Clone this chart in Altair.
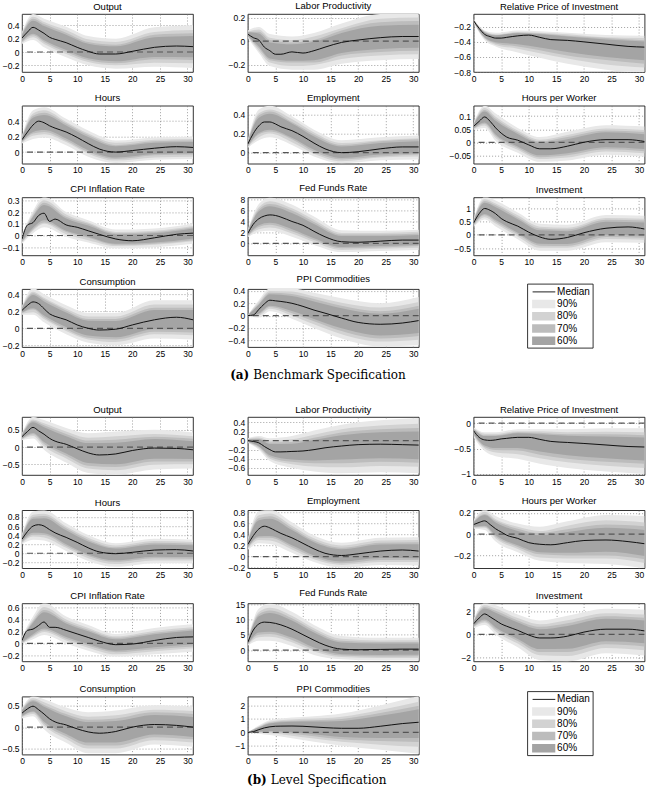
import altair as alt
import pandas as pd

# ---------------- shared grids ----------------
X_MED = [0, 1, 2, 3, 4, 5, 6, 8, 10, 12, 14, 17, 20, 24, 28, 31]
X_BAND = [0, 2, 4, 8, 12, 17, 24, 31]
X_TICKS = [0, 5, 10, 15, 20, 25, 30]
LEVELS = ["90%", "80%", "70%", "60%"]
BAND_COLORS = ["#e8e8e8", "#d2d2d2", "#bcbcbc", "#a4a4a4"]
LEGEND_LABELS = ["Median", "90%", "80%", "70%", "60%"]

# ---------------- (a) Benchmark specification ----------------
A_OUTPUT_MED = [0.21, 0.30, 0.37, 0.33, 0.28, 0.22, 0.19, 0.14, 0.07, 0.01, -0.03, -0.03, 0.01, 0.07, 0.09, 0.08]
A_OUTPUT_LO = [[0.12, 0.18, 0.07, -0.08, -0.20, -0.25, -0.22, -0.24],
               [0.14, 0.22, 0.12, -0.03, -0.15, -0.20, -0.16, -0.17],
               [0.15, 0.25, 0.15, 0.00, -0.12, -0.17, -0.11, -0.12],
               [0.165, 0.275, 0.175, 0.03, -0.095, -0.14, -0.075, -0.08]]
A_OUTPUT_HI = [[0.30, 0.57, 0.50, 0.38, 0.24, 0.20, 0.37, 0.40],
               [0.28, 0.53, 0.45, 0.33, 0.19, 0.15, 0.30, 0.33],
               [0.27, 0.50, 0.42, 0.29, 0.15, 0.11, 0.26, 0.28],
               [0.255, 0.47, 0.39, 0.26, 0.125, 0.085, 0.22, 0.24]]

A_LABPROD_MED = [0.06, 0.03, 0.01, -0.05, -0.08, -0.11, -0.11, -0.09, -0.10, -0.08, -0.05, -0.01, 0.01, 0.03, 0.04, 0.04]
A_LABPROD_LO = [[0.03, -0.10, -0.21, -0.24, -0.24, -0.19, -0.16, -0.15],
                [0.04, -0.08, -0.18, -0.21, -0.20, -0.15, -0.12, -0.11],
                [0.04, -0.06, -0.16, -0.18, -0.18, -0.12, -0.09, -0.08],
                [0.045, -0.045, -0.145, -0.165, -0.16, -0.10, -0.065, -0.055]]
A_LABPROD_HI = [[0.09, 0.12, 0.06, 0.04, 0.07, 0.15, 0.23, 0.24],
                [0.08, 0.10, 0.03, 0.01, 0.04, 0.11, 0.19, 0.20],
                [0.08, 0.08, 0.01, -0.01, 0.01, 0.09, 0.16, 0.17],
                [0.075, 0.065, -0.01, -0.025, -0.005, 0.07, 0.13, 0.14]]

A_RELPRICE_MED = [-0.12, -0.22, -0.30, -0.33, -0.35, -0.35, -0.34, -0.32, -0.31, -0.34, -0.37, -0.38, -0.40, -0.43, -0.46, -0.47]
A_RELPRICE_LO = [[-0.14, -0.38, -0.46, -0.54, -0.61, -0.69, -0.77, -0.82],
                 [-0.14, -0.36, -0.44, -0.49, -0.55, -0.62, -0.70, -0.74],
                 [-0.13, -0.35, -0.42, -0.46, -0.51, -0.58, -0.64, -0.69],
                 [-0.13, -0.34, -0.405, -0.43, -0.475, -0.535, -0.60, -0.645]]
A_RELPRICE_HI = [[-0.10, -0.25, -0.28, -0.25, -0.26, -0.28, -0.31, -0.32],
                 [-0.10, -0.26, -0.30, -0.27, -0.28, -0.30, -0.34, -0.35],
                 [-0.11, -0.27, -0.31, -0.28, -0.29, -0.32, -0.35, -0.38],
                 [-0.11, -0.275, -0.315, -0.285, -0.30, -0.33, -0.37, -0.395]]

A_HOURS_MED = [0.16, 0.26, 0.35, 0.40, 0.38, 0.34, 0.31, 0.26, 0.19, 0.11, 0.04, 0.00, 0.02, 0.05, 0.07, 0.06]
A_HOURS_LO = [[0.11, 0.17, 0.19, 0.09, -0.06, -0.14, -0.10, -0.09],
              [0.12, 0.21, 0.23, 0.13, -0.02, -0.11, -0.07, -0.06],
              [0.13, 0.24, 0.26, 0.15, 0.00, -0.09, -0.04, -0.03],
              [0.135, 0.26, 0.285, 0.175, 0.025, -0.07, -0.025, -0.015]]
A_HOURS_HI = [[0.21, 0.54, 0.58, 0.43, 0.28, 0.15, 0.19, 0.20],
              [0.20, 0.50, 0.54, 0.39, 0.24, 0.12, 0.16, 0.17],
              [0.19, 0.47, 0.51, 0.37, 0.22, 0.09, 0.14, 0.15],
              [0.185, 0.445, 0.48, 0.345, 0.195, 0.075, 0.12, 0.13]]

A_EMPL_MED = [0.09, 0.20, 0.28, 0.32, 0.32, 0.30, 0.27, 0.23, 0.17, 0.10, 0.04, 0.00, 0.01, 0.04, 0.06, 0.06]
A_EMPL_LO = [[0.05, 0.13, 0.16, 0.08, -0.04, -0.11, -0.08, -0.07],
             [0.06, 0.16, 0.20, 0.11, -0.01, -0.09, -0.05, -0.04],
             [0.06, 0.19, 0.22, 0.14, 0.01, -0.07, -0.04, -0.02],
             [0.07, 0.205, 0.24, 0.155, 0.03, -0.055, -0.02, -0.005]]
A_EMPL_HI = [[0.13, 0.45, 0.49, 0.38, 0.24, 0.13, 0.16, 0.18],
             [0.12, 0.41, 0.45, 0.35, 0.21, 0.10, 0.13, 0.15],
             [0.12, 0.39, 0.43, 0.32, 0.19, 0.08, 0.12, 0.14],
             [0.11, 0.365, 0.405, 0.305, 0.17, 0.065, 0.10, 0.12]]

A_HPW_MED = [0.061, 0.08, 0.097, 0.08, 0.055, 0.035, 0.02, 0.008, -0.01, -0.025, -0.025, -0.015, 0.0, 0.01, 0.01, 0.003]
A_HPW_LO = [[0.047, 0.055, 0.005, -0.04, -0.075, -0.07, -0.048, -0.055],
            [0.050, 0.064, 0.016, -0.029, -0.064, -0.058, -0.035, -0.042],
            [0.052, 0.071, 0.024, -0.022, -0.057, -0.050, -0.027, -0.034],
            [0.054, 0.076, 0.030, -0.016, -0.050, -0.042, -0.019, -0.026]]
A_HPW_HI = [[0.075, 0.14, 0.11, 0.055, 0.02, 0.04, 0.065, 0.06],
            [0.072, 0.131, 0.098, 0.045, 0.010, 0.028, 0.053, 0.047],
            [0.070, 0.124, 0.090, 0.038, 0.003, 0.020, 0.045, 0.039],
            [0.068, 0.118, 0.082, 0.032, -0.002, 0.012, 0.038, 0.031]]

A_CPI_MED = [-0.03, 0.09, 0.11, 0.17, 0.19, 0.12, 0.14, 0.09, 0.07, 0.04, 0.01, -0.03, -0.045, -0.02, 0.01, 0.02]
A_CPI_LO = [[-0.07, 0.02, 0.07, -0.01, -0.06, -0.11, -0.10, -0.07],
            [-0.06, 0.04, 0.10, 0.01, -0.04, -0.09, -0.08, -0.05],
            [-0.055, 0.05, 0.11, 0.03, -0.02, -0.08, -0.07, -0.04],
            [-0.05, 0.065, 0.13, 0.04, -0.01, -0.07, -0.06, -0.025]]
A_CPI_HI = [[0.01, 0.21, 0.33, 0.20, 0.13, 0.05, 0.06, 0.10],
            [0.00, 0.19, 0.30, 0.18, 0.11, 0.03, 0.04, 0.08],
            [-0.005, 0.17, 0.28, 0.16, 0.10, 0.02, 0.03, 0.07],
            [-0.01, 0.16, 0.26, 0.145, 0.085, 0.01, 0.02, 0.06]]

A_FFR_MED = [1.8, 3.5, 4.5, 5.0, 5.2, 5.1, 4.8, 4.0, 3.3, 2.2, 1.2, 0.3, 0.2, 0.4, 0.6, 0.6]
A_FFR_LO = [[1.1, 2.1, 2.3, 1.2, -0.3, -1.6, -1.4, -1.2],
            [1.25, 2.6, 2.9, 1.8, 0.25, -1.2, -1.0, -0.8],
            [1.35, 3.0, 3.4, 2.2, 0.6, -0.9, -0.75, -0.5],
            [1.45, 3.3, 3.75, 2.6, 0.95, -0.65, -0.5, -0.3]]
A_FFR_HI = [[2.5, 7.2, 8.4, 7.1, 4.9, 2.4, 2.3, 2.5],
            [2.35, 6.6, 7.7, 6.4, 4.3, 1.9, 1.9, 2.1],
            [2.25, 6.2, 7.2, 6.0, 3.9, 1.6, 1.6, 1.8],
            [2.15, 5.85, 6.8, 5.55, 3.55, 1.35, 1.35, 1.55]]

A_INV_MED = [0.45, 0.80, 1.00, 0.93, 0.80, 0.62, 0.50, 0.33, 0.10, -0.08, -0.17, -0.10, 0.08, 0.25, 0.30, 0.22]
A_INV_LO = [[0.30, 0.58, 0.32, -0.17, -0.60, -0.60, -0.28, -0.30],
            [0.33, 0.67, 0.43, -0.06, -0.49, -0.49, -0.16, -0.19],
            [0.36, 0.74, 0.50, 0.02, -0.41, -0.42, -0.08, -0.11],
            [0.38, 0.79, 0.56, 0.08, -0.34, -0.35, 0.00, -0.04]]
A_INV_HI = [[0.60, 1.45, 1.30, 0.85, 0.42, 0.38, 0.75, 0.72],
            [0.57, 1.35, 1.19, 0.74, 0.31, 0.27, 0.64, 0.61],
            [0.54, 1.28, 1.12, 0.66, 0.24, 0.20, 0.57, 0.54],
            [0.52, 1.22, 1.05, 0.59, 0.17, 0.14, 0.50, 0.47]]

A_CONS_MED = [0.21, 0.27, 0.31, 0.29, 0.23, 0.17, 0.14, 0.10, 0.04, 0.00, -0.02, -0.01, 0.04, 0.10, 0.13, 0.10]
A_CONS_LO = [[0.16, 0.16, 0.07, -0.07, -0.17, -0.20, -0.12, -0.13],
             [0.17, 0.19, 0.11, -0.03, -0.13, -0.16, -0.07, -0.08],
             [0.18, 0.22, 0.13, -0.01, -0.11, -0.13, -0.04, -0.05],
             [0.185, 0.235, 0.15, 0.015, -0.085, -0.105, -0.01, -0.015]]
A_CONS_HI = [[0.26, 0.47, 0.40, 0.27, 0.18, 0.18, 0.33, 0.33],
             [0.25, 0.43, 0.36, 0.23, 0.14, 0.14, 0.28, 0.28],
             [0.24, 0.41, 0.34, 0.21, 0.11, 0.11, 0.24, 0.24],
             [0.235, 0.39, 0.315, 0.185, 0.09, 0.085, 0.215, 0.215]]

A_PPI_MED = [0.0, 0.01, 0.10, 0.19, 0.25, 0.24, 0.23, 0.20, 0.15, 0.09, 0.04, -0.04, -0.11, -0.14, -0.12, -0.08]
A_PPI_LO = [[-0.01, -0.03, 0.07, -0.05, -0.20, -0.37, -0.50, -0.48],
            [-0.01, 0.00, 0.11, 0.00, -0.14, -0.30, -0.42, -0.39],
            [-0.005, 0.02, 0.14, 0.04, -0.09, -0.25, -0.37, -0.33],
            [-0.005, 0.035, 0.16, 0.075, -0.055, -0.205, -0.32, -0.28]]
A_PPI_HI = [[0.01, 0.25, 0.44, 0.44, 0.37, 0.28, 0.20, 0.30],
            [0.01, 0.22, 0.40, 0.39, 0.31, 0.21, 0.13, 0.22],
            [0.005, 0.19, 0.37, 0.35, 0.27, 0.16, 0.07, 0.16],
            [0.005, 0.175, 0.345, 0.32, 0.23, 0.12, 0.03, 0.11]]

# ---------------- (b) Level specification ----------------
B_OUTPUT_MED = [0.30, 0.45, 0.57, 0.47, 0.37, 0.25, 0.17, 0.08, -0.05, -0.17, -0.23, -0.20, -0.10, -0.03, -0.04, -0.08]
B_OUTPUT_LO = [[0.20, 0.25, -0.08, -0.45, -0.75, -0.80, -0.65, -0.62],
               [0.22, 0.32, 0.02, -0.33, -0.62, -0.67, -0.51, -0.50],
               [0.24, 0.37, 0.09, -0.25, -0.54, -0.58, -0.42, -0.42],
               [0.25, 0.41, 0.145, -0.185, -0.46, -0.50, -0.34, -0.35]]
B_OUTPUT_HI = [[0.40, 0.87, 0.78, 0.55, 0.40, 0.45, 0.50, 0.42],
               [0.38, 0.80, 0.69, 0.45, 0.27, 0.31, 0.38, 0.31],
               [0.36, 0.76, 0.63, 0.38, 0.19, 0.21, 0.30, 0.24],
               [0.35, 0.72, 0.575, 0.315, 0.115, 0.125, 0.235, 0.17]]

B_LABPROD_MED = [0.0, -0.02, -0.05, -0.13, -0.20, -0.25, -0.25, -0.24, -0.23, -0.20, -0.16, -0.12, -0.09, -0.08, -0.09, -0.10]
B_LABPROD_LO = [[-0.05, -0.20, -0.45, -0.60, -0.68, -0.72, -0.70, -0.72],
                [-0.04, -0.17, -0.40, -0.52, -0.57, -0.59, -0.56, -0.58],
                [-0.03, -0.14, -0.36, -0.47, -0.50, -0.50, -0.47, -0.49],
                [-0.025, -0.125, -0.325, -0.42, -0.44, -0.42, -0.39, -0.41]]
B_LABPROD_HI = [[0.05, 0.10, 0.05, 0.10, 0.22, 0.35, 0.45, 0.50],
                [0.04, 0.07, 0.00, 0.03, 0.13, 0.25, 0.33, 0.37],
                [0.03, 0.04, -0.04, -0.03, 0.06, 0.18, 0.25, 0.28],
                [0.025, 0.025, -0.075, -0.07, 0.01, 0.115, 0.185, 0.20]]

B_RELPRICE_MED = [-0.15, -0.28, -0.33, -0.34, -0.33, -0.31, -0.30, -0.28, -0.28, -0.32, -0.36, -0.38, -0.40, -0.43, -0.46, -0.47]
B_RELPRICE_LO = [[-0.28, -0.55, -0.65, -0.70, -0.80, -0.88, -0.95, -1.00],
                 [-0.25, -0.50, -0.58, -0.61, -0.69, -0.77, -0.84, -0.88],
                 [-0.23, -0.47, -0.53, -0.54, -0.62, -0.70, -0.76, -0.80],
                 [-0.215, -0.44, -0.49, -0.49, -0.56, -0.63, -0.69, -0.735]]
B_RELPRICE_HI = [[-0.08, -0.18, -0.18, -0.12, -0.12, -0.12, -0.10, -0.10],
                 [-0.10, -0.21, -0.21, -0.16, -0.16, -0.18, -0.17, -0.18],
                 [-0.11, -0.24, -0.24, -0.18, -0.19, -0.22, -0.22, -0.24],
                 [-0.115, -0.255, -0.255, -0.20, -0.22, -0.25, -0.265, -0.285]]

B_HOURS_MED = [0.31, 0.48, 0.60, 0.63, 0.60, 0.52, 0.45, 0.35, 0.24, 0.12, 0.03, -0.01, 0.02, 0.07, 0.08, 0.05]
B_HOURS_LO = [[0.20, 0.30, 0.28, 0.05, -0.17, -0.30, -0.22, -0.22],
              [0.22, 0.37, 0.35, 0.12, -0.11, -0.24, -0.16, -0.16],
              [0.24, 0.41, 0.40, 0.16, -0.06, -0.19, -0.11, -0.12],
              [0.255, 0.45, 0.44, 0.20, -0.025, -0.155, -0.075, -0.085]]
B_HOURS_HI = [[0.42, 0.92, 0.95, 0.66, 0.40, 0.22, 0.32, 0.30],
              [0.40, 0.85, 0.87, 0.59, 0.34, 0.17, 0.27, 0.25],
              [0.38, 0.80, 0.82, 0.55, 0.30, 0.13, 0.23, 0.21],
              [0.365, 0.76, 0.775, 0.505, 0.26, 0.105, 0.195, 0.175]]

B_EMPL_MED = [0.22, 0.38, 0.50, 0.55, 0.52, 0.47, 0.42, 0.34, 0.24, 0.14, 0.06, 0.02, 0.05, 0.10, 0.12, 0.10]
B_EMPL_LO = [[0.12, 0.24, 0.23, 0.07, -0.10, -0.20, -0.15, -0.16],
             [0.14, 0.30, 0.29, 0.13, -0.05, -0.15, -0.10, -0.10],
             [0.16, 0.34, 0.34, 0.17, -0.01, -0.12, -0.06, -0.06],
             [0.17, 0.37, 0.375, 0.205, 0.02, -0.09, -0.025, -0.03]]
B_EMPL_HI = [[0.32, 0.82, 0.85, 0.62, 0.38, 0.25, 0.34, 0.35],
             [0.30, 0.75, 0.78, 0.56, 0.33, 0.20, 0.29, 0.30],
             [0.28, 0.70, 0.73, 0.52, 0.29, 0.16, 0.25, 0.26],
             [0.27, 0.66, 0.685, 0.48, 0.26, 0.135, 0.22, 0.225]]

B_HPW_MED = [0.09, 0.11, 0.125, 0.09, 0.05, 0.02, -0.01, -0.04, -0.08, -0.095, -0.10, -0.08, -0.06, -0.055, -0.07, -0.09]
B_HPW_LO = [[0.05, 0.04, -0.07, -0.17, -0.25, -0.27, -0.28, -0.32],
            [0.06, 0.06, -0.04, -0.14, -0.22, -0.23, -0.23, -0.27],
            [0.065, 0.07, -0.025, -0.12, -0.19, -0.20, -0.20, -0.235],
            [0.07, 0.08, -0.01, -0.105, -0.17, -0.175, -0.165, -0.205]]
B_HPW_HI = [[0.13, 0.23, 0.17, 0.10, 0.07, 0.12, 0.18, 0.17],
            [0.12, 0.21, 0.14, 0.07, 0.03, 0.08, 0.13, 0.11],
            [0.115, 0.19, 0.125, 0.05, 0.01, 0.045, 0.09, 0.075],
            [0.11, 0.18, 0.11, 0.03, -0.01, 0.02, 0.06, 0.04]]

B_CPI_MED = [0.05, 0.22, 0.24, 0.30, 0.36, 0.27, 0.27, 0.22, 0.16, 0.10, 0.04, -0.02, -0.01, 0.05, 0.10, 0.11]
B_CPI_LO = [[-0.01, 0.07, 0.14, 0.00, -0.12, -0.22, -0.18, -0.14],
            [0.005, 0.11, 0.19, 0.05, -0.07, -0.18, -0.13, -0.08],
            [0.01, 0.13, 0.22, 0.08, -0.04, -0.145, -0.095, -0.05],
            [0.02, 0.155, 0.25, 0.11, -0.01, -0.12, -0.065, -0.015]]
B_CPI_HI = [[0.12, 0.45, 0.68, 0.45, 0.31, 0.16, 0.26, 0.32],
            [0.105, 0.40, 0.61, 0.40, 0.26, 0.12, 0.21, 0.27],
            [0.095, 0.37, 0.56, 0.365, 0.23, 0.095, 0.18, 0.24],
            [0.085, 0.345, 0.52, 0.335, 0.205, 0.07, 0.155, 0.215]]

B_FFR_MED = [2.5, 6.5, 8.5, 9.1, 9.0, 8.7, 8.2, 6.8, 5.0, 3.2, 1.6, 0.3, 0.1, 0.2, 0.3, 0.3]
B_FFR_LO = [[1.4, 3.0, 3.0, 1.3, -1.6, -3.0, -3.4, -3.4],
            [1.65, 4.2, 4.3, 2.5, -0.5, -2.3, -2.6, -2.6],
            [1.8, 5.0, 5.2, 3.3, 0.2, -1.8, -2.1, -2.0],
            [1.95, 5.75, 6.0, 4.05, 0.8, -1.35, -1.6, -1.55]]
B_FFR_HI = [[3.6, 13.5, 15.2, 12.5, 8.2, 4.6, 4.0, 4.0],
            [3.35, 12.4, 13.8, 11.2, 7.1, 3.65, 3.15, 3.2],
            [3.2, 11.7, 12.9, 10.4, 6.4, 3.0, 2.6, 2.6],
            [3.05, 11.0, 12.1, 9.65, 5.7, 2.45, 2.1, 2.15]]

B_INV_MED = [0.9, 1.4, 1.75, 1.5, 1.2, 0.9, 0.7, 0.35, -0.05, -0.3, -0.3, -0.15, 0.2, 0.45, 0.45, 0.3]
B_INV_LO = [[0.50, 0.80, 0.00, -1.10, -2.20, -2.30, -1.60, -1.80],
            [0.59, 1.01, 0.26, -0.78, -1.78, -1.83, -1.15, -1.34],
            [0.65, 1.15, 0.44, -0.56, -1.50, -1.50, -0.84, -1.02],
            [0.70, 1.27, 0.60, -0.38, -1.25, -1.23, -0.58, -0.75]]
B_INV_HI = [[1.30, 2.70, 2.50, 1.70, 1.20, 1.60, 2.20, 2.10],
            [1.21, 2.49, 2.21, 1.40, 0.87, 1.22, 1.82, 1.70],
            [1.15, 2.35, 2.02, 1.20, 0.65, 0.95, 1.55, 1.43],
            [1.10, 2.22, 1.85, 1.03, 0.45, 0.73, 1.33, 1.20]]

B_CONS_MED = [0.32, 0.42, 0.48, 0.40, 0.30, 0.19, 0.12, 0.05, -0.04, -0.11, -0.14, -0.10, 0.00, 0.06, 0.04, 0.00]
B_CONS_LO = [[0.20, 0.25, -0.05, -0.36, -0.60, -0.60, -0.40, -0.45],
             [0.23, 0.30, 0.03, -0.27, -0.49, -0.49, -0.30, -0.35],
             [0.24, 0.34, 0.08, -0.21, -0.42, -0.42, -0.23, -0.28],
             [0.26, 0.365, 0.125, -0.155, -0.355, -0.35, -0.17, -0.225]]
B_CONS_HI = [[0.44, 0.71, 0.64, 0.45, 0.34, 0.38, 0.50, 0.47],
             [0.41, 0.66, 0.57, 0.36, 0.24, 0.27, 0.40, 0.37],
             [0.40, 0.62, 0.51, 0.30, 0.17, 0.20, 0.34, 0.30],
             [0.38, 0.595, 0.47, 0.25, 0.115, 0.14, 0.28, 0.235]]

B_PPI_MED = [0.0, 0.05, 0.20, 0.33, 0.41, 0.45, 0.46, 0.47, 0.45, 0.40, 0.35, 0.30, 0.30, 0.45, 0.65, 0.75]
B_PPI_LO = [[-0.02, -0.10, -0.20, -0.45, -0.70, -1.00, -1.30, -1.60],
            [-0.015, -0.03, -0.07, -0.25, -0.46, -0.71, -0.92, -1.08],
            [-0.01, 0.01, 0.03, -0.11, -0.29, -0.52, -0.65, -0.73],
            [-0.01, 0.05, 0.105, 0.01, -0.15, -0.35, -0.425, -0.425]]
B_PPI_HI = [[0.02, 0.50, 0.90, 1.10, 1.20, 1.40, 2.00, 2.70],
            [0.015, 0.43, 0.79, 0.96, 1.02, 1.16, 1.66, 2.27],
            [0.01, 0.39, 0.72, 0.87, 0.90, 0.99, 1.43, 1.98],
            [0.01, 0.35, 0.655, 0.785, 0.80, 0.85, 1.225, 1.725]]

# title, median, lower bounds, upper bounds, y-domain, y-ticks
PANELS_A = [
    ("Output", A_OUTPUT_MED, A_OUTPUT_LO, A_OUTPUT_HI, [-0.3, 0.57], [-0.2, 0, 0.2, 0.4]),
    ("Labor Productivity", A_LABPROD_MED, A_LABPROD_LO, A_LABPROD_HI, [-0.26, 0.23], [-0.2, 0, 0.2]),
    ("Relative Price of Investment", A_RELPRICE_MED, A_RELPRICE_LO, A_RELPRICE_HI, [-0.8, -0.03], [-0.8, -0.6, -0.4, -0.2]),
    ("Hours", A_HOURS_MED, A_HOURS_LO, A_HOURS_HI, [-0.15, 0.6], [0, 0.2, 0.4]),
    ("Employment", A_EMPL_MED, A_EMPL_LO, A_EMPL_HI, [-0.115, 0.49], [0, 0.2, 0.4]),
    ("Hours per Worker", A_HPW_MED, A_HPW_LO, A_HPW_HI, [-0.082, 0.14], [-0.05, 0, 0.05, 0.1]),
    ("CPI Inflation Rate", A_CPI_MED, A_CPI_LO, A_CPI_HI, [-0.17, 0.325], [-0.1, 0, 0.1, 0.2, 0.3]),
    ("Fed Funds Rate", A_FFR_MED, A_FFR_LO, A_FFR_HI, [-2.2, 8.4], [0, 2, 4, 6, 8]),
    ("Investment", A_INV_MED, A_INV_LO, A_INV_HI, [-0.78, 1.42], [-0.5, 0, 0.5, 1]),
    ("Consumption", A_CONS_MED, A_CONS_LO, A_CONS_HI, [-0.22, 0.46], [-0.2, 0, 0.2, 0.4]),
    ("PPI Commodities", A_PPI_MED, A_PPI_LO, A_PPI_HI, [-0.51, 0.43], [-0.4, -0.2, 0, 0.2, 0.4]),
]
PANELS_B = [
    ("Output", B_OUTPUT_MED, B_OUTPUT_LO, B_OUTPUT_HI, [-0.81, 0.87], [-0.5, 0, 0.5]),
    ("Labor Productivity", B_LABPROD_MED, B_LABPROD_LO, B_LABPROD_HI, [-0.76, 0.52], [-0.6, -0.4, -0.2, 0, 0.2, 0.4]),
    ("Relative Price of Investment", B_RELPRICE_MED, B_RELPRICE_LO, B_RELPRICE_HI, [-1.02, 0.12], [-1, -0.5, 0]),
    ("Hours", B_HOURS_MED, B_HOURS_LO, B_HOURS_HI, [-0.33, 0.95], [-0.2, 0, 0.2, 0.4, 0.6, 0.8]),
    ("Employment", B_EMPL_MED, B_EMPL_LO, B_EMPL_HI, [-0.21, 0.84], [-0.2, 0, 0.2, 0.4, 0.6, 0.8]),
    ("Hours per Worker", B_HPW_MED, B_HPW_LO, B_HPW_HI, [-0.32, 0.225], [-0.2, 0, 0.2]),
    ("CPI Inflation Rate", B_CPI_MED, B_CPI_LO, B_CPI_HI, [-0.3, 0.67], [-0.2, 0, 0.2, 0.4, 0.6]),
    ("Fed Funds Rate", B_FFR_MED, B_FFR_LO, B_FFR_HI, [-3.7, 15.2], [0, 5, 10, 15]),
    ("Investment", B_INV_MED, B_INV_LO, B_INV_HI, [-2.3, 2.65], [-2, 0, 2]),
    ("Consumption", B_CONS_MED, B_CONS_LO, B_CONS_HI, [-0.63, 0.70], [-0.5, 0, 0.5]),
    ("PPI Commodities", B_PPI_MED, B_PPI_LO, B_PPI_HI, [-1.66, 2.66], [-1, 0, 1, 2]),
]
CAPTION_A = ("(a)", "Benchmark Specification")
CAPTION_B = ("(b)", "Level Specification")

FONT = "Liberation Sans"
SERIF = "DejaVu Serif"
W, H = 171, 58


def panel(title, med, lo, hi, dom, ticks, caption=None, cap_x=0.0, cap_y=84):
    xs = alt.Scale(domain=[0, 31], nice=False, zero=False)
    ys = alt.Scale(domain=dom, nice=False, zero=False)
    xax = alt.Axis(values=X_TICKS, format="d", title=None, grid=True, ticks=False,
                   domain=False, labelOverlap=False, labelFlush=False, labelPadding=2)
    yax = alt.Axis(values=ticks, format="~g", title=None, grid=True, ticks=False,
                   domain=False, labelOverlap=False, labelFlush=False, labelPadding=3)
    layers = []
    for color, l, h in zip(BAND_COLORS, lo, hi):
        df = pd.DataFrame({"x": X_BAND, "lo": l, "hi": h})
        layers.append(
            alt.Chart(df).mark_area(color=color, interpolate="monotone", clip=True).encode(
                x=alt.X("x:Q", scale=xs, axis=xax),
                y=alt.Y("lo:Q", scale=ys, axis=yax),
                y2="hi:Q",
            )
        )
    zero = alt.Chart(pd.DataFrame({"z": [0]})).mark_rule(
        color="#555555", strokeDash=[6, 4], strokeWidth=1.2, clip=True
    ).encode(y=alt.Y("z:Q", scale=ys, axis=yax))
    line = alt.Chart(pd.DataFrame({"x": X_MED, "y": med})).mark_line(
        color="#111111", strokeWidth=1, interpolate="monotone", clip=True
    ).encode(x=alt.X("x:Q", scale=xs, axis=xax), y=alt.Y("y:Q", scale=ys, axis=yax))
    layers += [zero, line]
    if caption is not None:
        one = pd.DataFrame({"k": [0]})
        layers.append(
            alt.Chart(one).mark_text(text=caption[0], align="right", baseline="middle",
                                     font=SERIF, fontWeight="bold", fontSize=12, color="black")
            .encode(x=alt.value(cap_x), y=alt.value(cap_y))
        )
        layers.append(
            alt.Chart(one).mark_text(text=caption[1], align="left", baseline="middle",
                                     font=SERIF, fontWeight="normal", fontSize=12, color="black")
            .encode(x=alt.value(cap_x + 4), y=alt.value(cap_y))
        )
    return alt.layer(*layers).properties(width=W, height=H, title=title)


def legend_cell():
    ls = alt.Scale(type="band", domain=LEGEND_LABELS, range=[-3.3, 57.7],
                   paddingInner=0.3, paddingOuter=0.15)
    one = pd.DataFrame({"k": [0]})
    frame = alt.Chart(one).mark_rect(fill="white", stroke="black", strokeWidth=0.8).encode(
        x=alt.value(54), x2=alt.value(119.5), y=alt.value(-5), y2=alt.value(59))
    sw = alt.Chart(pd.DataFrame({"label": LEVELS})).mark_rect().encode(
        y=alt.Y("label:N", scale=ls, axis=None),
        x=alt.value(58.5), x2=alt.value(81.7),
        color=alt.Color("label:N", scale=alt.Scale(domain=LEVELS, range=BAND_COLORS), legend=None),
    )
    med = alt.Chart(pd.DataFrame({"label": ["Median"]})).mark_rule(color="#222222", strokeWidth=1).encode(
        y=alt.Y("label:N", scale=ls, axis=None, bandPosition=0.5),
        x=alt.value(59), x2=alt.value(81.7),
    )
    txt = alt.Chart(pd.DataFrame({"label": LEGEND_LABELS})).mark_text(
        align="left", baseline="middle", font=FONT, fontSize=10, color="black"
    ).encode(
        y=alt.Y("label:N", scale=ls, axis=None, bandPosition=0.5),
        x=alt.value(83.5),
        text="label:N",
    )
    return alt.layer(frame, sw, med, txt).properties(
        width=W, height=H, view=alt.ViewBackground(stroke="transparent"))


def grid(panels, caption, cap_x, cap_y, row_gap):
    cells = []
    for i, p in enumerate(panels):
        if i == 10:
            cells.append(panel(*p, caption=caption, cap_x=cap_x, cap_y=cap_y))
        else:
            cells.append(panel(*p))
    cells.append(legend_cell())
    return alt.concat(*cells, columns=3, bounds="flush",
                      spacing=alt.RowColnumber(row=row_gap, column=54.8))


chart = alt.vconcat(
    grid(PANELS_A, CAPTION_A, 1.5, 86, 33.7),
    grid(PANELS_B, CAPTION_B, 19, 83, 35.2),
    spacing=22,
).properties(
    padding={"left": 1, "top": 0, "right": 4, "bottom": 2}
).configure_view(
    stroke="black", strokeWidth=0.8
).configure_title(
    font=FONT, fontSize=9.5, fontWeight="normal", color="black", offset=3, anchor="middle"
).configure_axis(
    labelFont=FONT, labelFontSize=8.5, labelColor="black",
    gridColor="#777777", gridDash=[1, 2], gridWidth=0.7,
)

chart.save("out.html", embed_options={"renderer": "svg", "actions": False})
